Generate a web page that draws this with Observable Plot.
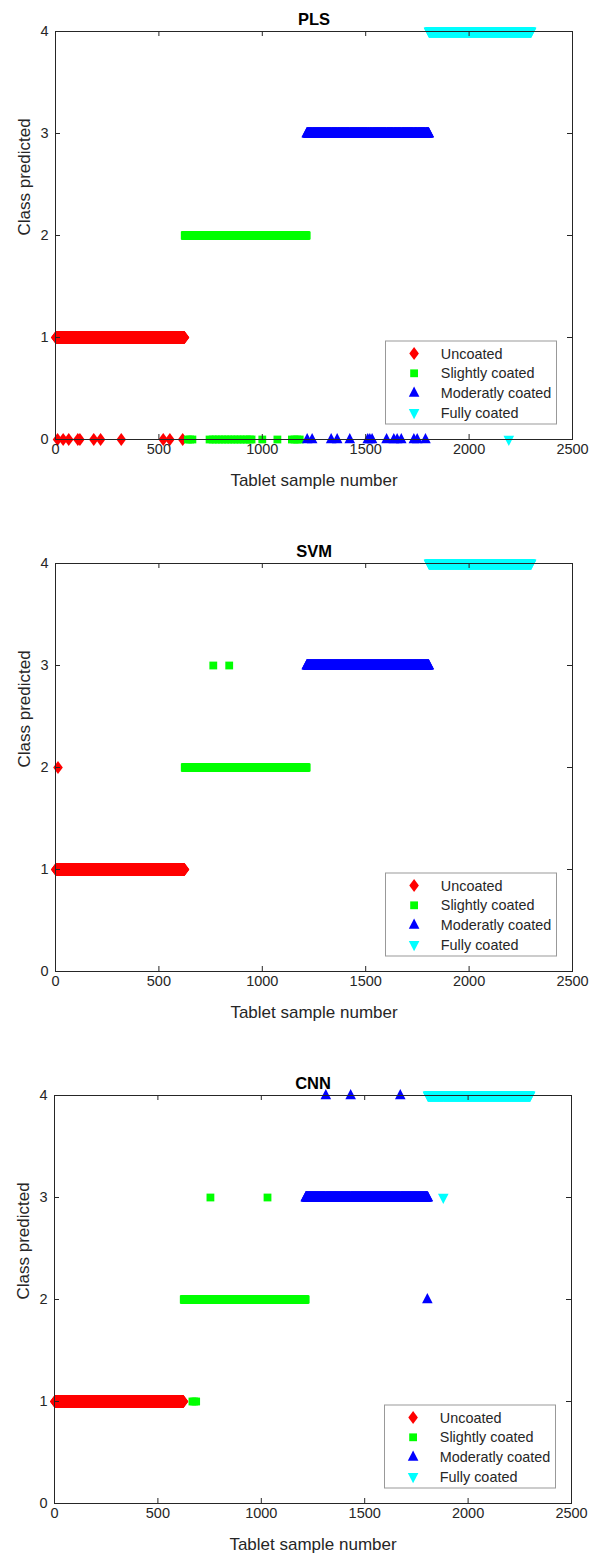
<!DOCTYPE html>
<html><head><meta charset="utf-8">
<script src="https://cdn.jsdelivr.net/npm/d3@7"></script>
<script src="https://cdn.jsdelivr.net/npm/@observablehq/plot@0.6"></script>
<style>body{margin:0;background:#fff} #chart svg{display:block}</style>
</head><body><div id="chart"></div>
<script>
// ---- data ----
const models = ["PLS", "SVM", "CNN"];
const classNames = ["Uncoated", "Slightly coated", "Moderatly coated", "Fully coated"];
const classColors = ["#ff0000", "#00ff00", "#0000ff", "#00ffff"];
const classValue = [1, 2, 3, 4];
const classFirstSample = [1, 625, 1215, 1806];
const classLastSample = [624, 1214, 1805, 2300];
const xTicks = [0, 500, 1000, 1500, 2000, 2500];
const yTicks = [0, 1, 2, 3, 4];
const xLabel = "Tablet sample number";
const yLabel = "Class predicted";

// misclassified samples (sample number, predicted class)
const plsErrSample = [10, 37, 64, 108, 118, 185, 218, 318, 521, 553, 615,
  640, 651, 662, 745, 760, 775, 790, 805, 820, 835, 850, 865, 880, 895, 910, 925, 940, 948, 1000, 1073, 1143, 1156, 1169, 1181,
  1217, 1241, 1333, 1362, 1423, 1510, 1520, 1531, 1601, 1636, 1652, 1672, 1733, 1749, 1789,
  2192];
const plsErrPred = plsErrSample.map(() => 0);
const svmErrSample = [12, 763, 840];
const svmErrPred = [2, 3, 3];
const cnnErrSample = [667, 676, 685, 754, 1030, 1312, 1432, 1672, 1803, 1880];
const cnnErrPred = [1, 1, 1, 3, 3, 4, 4, 4, 2, 3];

const errSamples = [plsErrSample, svmErrSample, cnnErrSample];
const errPreds = [plsErrPred, svmErrPred, cnnErrPred];

// ---- marker shapes (MATLAB-like) ----
const symDiamond = {draw(c) { c.moveTo(0, -6.5); c.lineTo(4.8, 0); c.lineTo(0, 6.5); c.lineTo(-4.8, 0); c.closePath(); }};
const symSquare = {draw(c) { c.moveTo(-3.9, -3.9); c.lineTo(3.9, -3.9); c.lineTo(3.9, 3.9); c.lineTo(-3.9, 3.9); c.closePath(); }};
const symTriUp = {draw(c) { c.moveTo(0, -6.5); c.lineTo(5.3, 3.8); c.lineTo(-5.3, 3.8); c.closePath(); }};
const symTriDown = {draw(c) { c.moveTo(0, 6.5); c.lineTo(5.3, -3.8); c.lineTo(-5.3, -3.8); c.closePath(); }};
const classSymbols = [symDiamond, symSquare, symTriUp, symTriDown];

function buildPoints(m) {
  const err = new Map(errSamples[m].map((s, i) => [s, errPreds[m][i]]));
  return classNames.map((name, k) => {
    const pts = [];
    for (let s = classFirstSample[k]; s <= classLastSample[k]; s++) {
      pts.push({sample: s, predicted: err.has(s) ? err.get(s) : classValue[k]});
    }
    return pts;
  });
}

function legendMark(index, scales, values, dim) {
  const w = 171, h = 83;
  const x0 = dim.width - dim.marginRight - 15.5 - w;
  const y0 = dim.height - dim.marginBottom - 15 - h;
  const g = d3.create("svg:g").attr("transform", `translate(${x0},${y0})`);
  g.append("rect").attr("width", w).attr("height", h).attr("fill", "#fff").attr("stroke", "#999");
  classNames.forEach((name, k) => {
    const cy = 12.6 + k * 19.7;
    g.append("path").attr("d", d3.symbol(classSymbols[k])()).attr("transform", `translate(28.6,${cy})`).attr("fill", classColors[k]);
    g.append("text").attr("x", 55.3).attr("y", cy).attr("dy", "0.35em").attr("text-anchor", "start")
      .attr("font-size", 14.4).attr("fill", "#262626").text(name);
  });
  return g.node();
}

const root = document.getElementById("chart");
models.forEach((model, m) => {
  const isLast = m === models.length - 1;
  const H = isLast ? 491 : 532;
  const groups = buildPoints(m);
  const plot = Plot.plot({
    width: 591, height: H,
    marginLeft: isLast ? 54 : 55, marginRight: isLast ? 20 : 19, marginTop: 31, marginBottom: H - 439,
    x: {domain: [0, 2500]},
    y: {domain: [0, 4]},
    style: {fontFamily: "'Liberation Sans', Arial, Helvetica, sans-serif", color: "#262626", background: "#fff", overflow: "visible"},
    marks: [
      ...groups.map((pts, k) => Plot.dot(pts, {x: "sample", y: "predicted", symbol: classSymbols[k], r: 5, fill: classColors[k], stroke: "none"})),
      Plot.ruleX(xTicks, {x: d => d, y1: 4, y2: 0, insetTop: 403, stroke: "#262626"}),
      Plot.ruleX(xTicks, {x: d => d, y1: 4, y2: 0, insetBottom: 403, stroke: "#262626"}),
      Plot.ruleY(yTicks, {y: d => d, x1: 0, x2: 2500, insetRight: 512, stroke: "#262626"}),
      Plot.ruleY(yTicks, {y: d => d, x1: 0, x2: 2500, insetLeft: 512, stroke: "#262626"}),
      Plot.frame({stroke: "#262626"}),
      Plot.axisX({ticks: xTicks, tickSize: 0, tickPadding: 4, fontSize: 14.5, tickFormat: d => String(d), label: null}),
      Plot.axisY({ticks: yTicks, tickSize: 0, tickPadding: 7, fontSize: 14.5, tickFormat: d => String(d), label: null}),
      Plot.text([xLabel], {frameAnchor: "bottom", dy: 34, lineAnchor: "top", fontSize: 17, text: d => d, fill: "#262626"}),
      Plot.text([yLabel], {frameAnchor: "left", dx: -31, rotate: -90, fontSize: 17, text: d => d, fill: "#262626"}),
      Plot.text([model], {frameAnchor: "top", dy: -7, lineAnchor: "bottom", fontSize: 16.5, fontWeight: "bold", text: d => d, fill: "#000"}),
      legendMark
    ]
  });
  root.appendChild(plot);
});
</script>
</body></html>
